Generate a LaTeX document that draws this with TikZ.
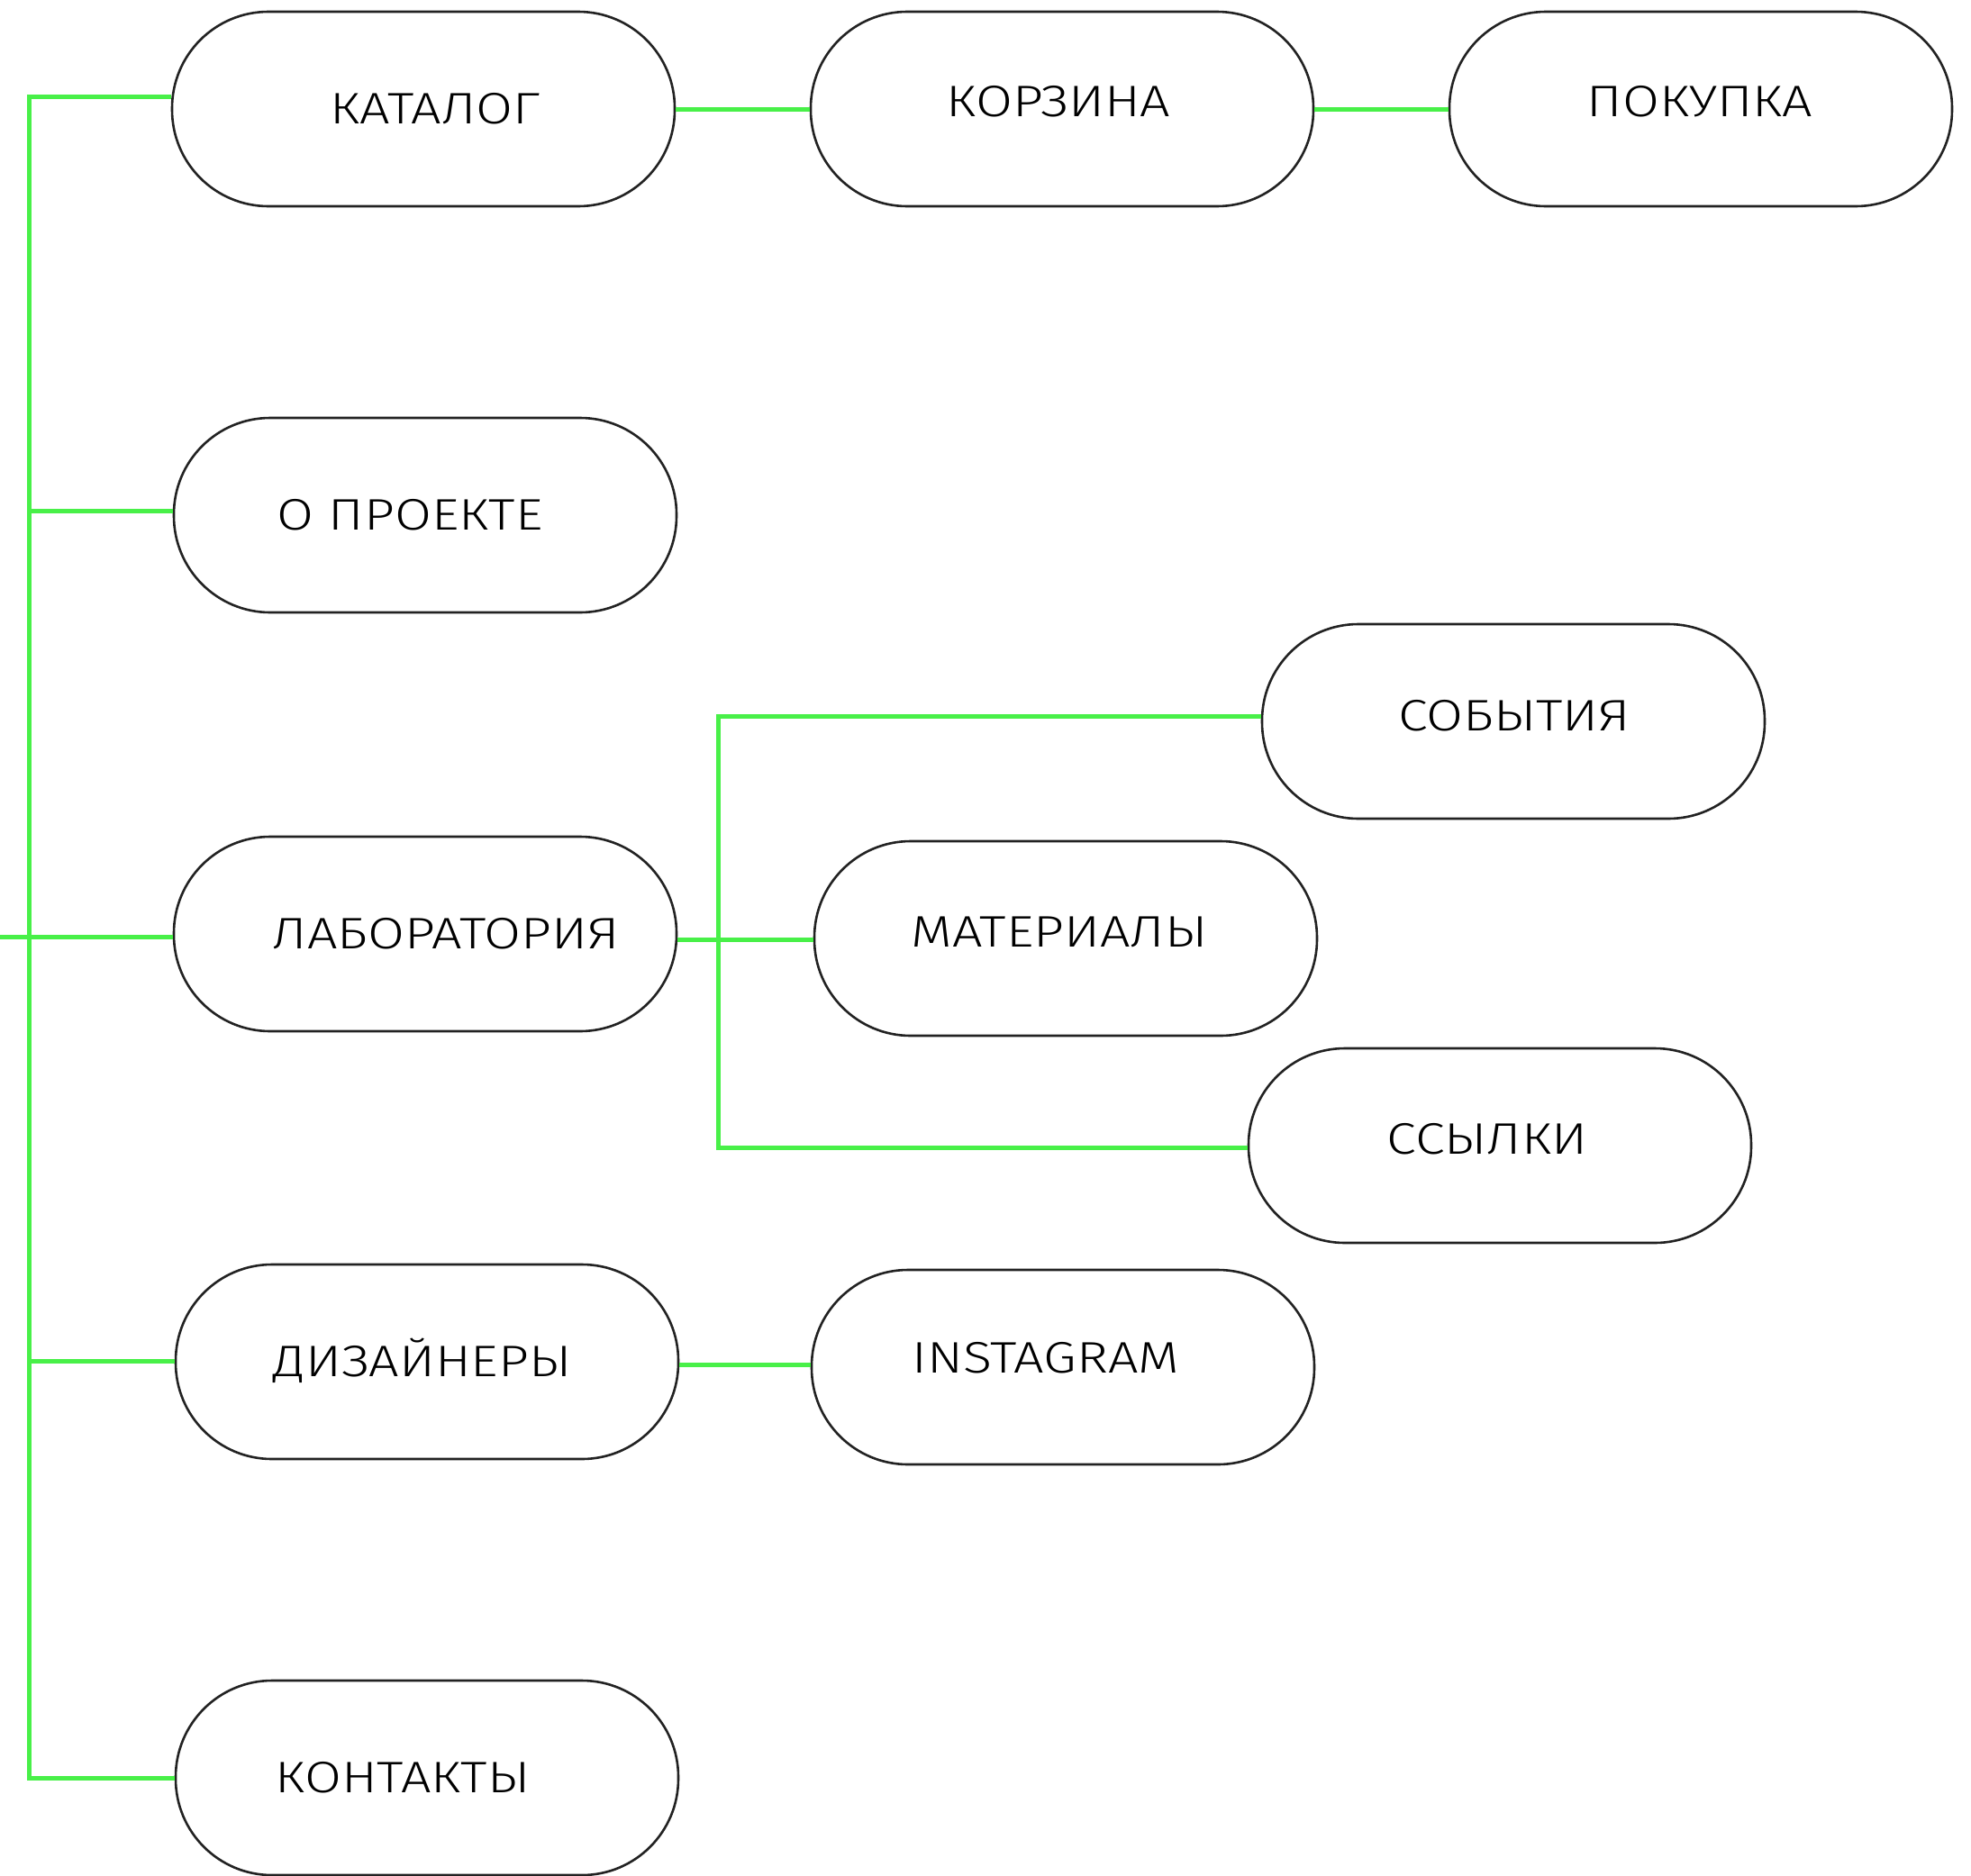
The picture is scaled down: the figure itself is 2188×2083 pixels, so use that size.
\documentclass[tikz,border=0pt]{standalone}
\usepackage{fontspec}
\setmainfont{Fira Sans Light}[FakeStretch=1.21]
\definecolor{lgreen}{RGB}{72,240,72}
\definecolor{boxline}{RGB}{34,34,34}
\tikzset{
  pill/.style={draw=boxline, line width=2.6pt, rectangle, rounded corners=107pt,
    minimum width=558pt, minimum height=216pt, inner sep=0pt, fill=white},
  lbl/.style={anchor=base, inner sep=0pt, font=\fontsize{49}{55}\selectfont, text=black},
  link/.style={draw=lgreen, line width=5pt}
}
\begin{document}
\begin{tikzpicture}[x=1pt,y=-1pt]
\useasboundingbox[fill=white] (0,0) rectangle (2188,2083);
% boxes
\node[pill] (kat) at (470,121) {};
\node[pill] (kor) at (1179,121) {};
\node[pill] (pok) at (1888,121) {};
\node[pill] (pro) at (472,572) {};
\node[pill] (lab) at (472,1037) {};
\node[pill] (sob) at (1680,801) {};
\node[pill] (mat) at (1183,1042) {};
\node[pill] (ssy) at (1665,1272) {};
\node[pill] (diz) at (474,1512) {};
\node[pill] (ins) at (1180,1518) {};
\node[pill] (kon) at (474,1974) {};
% labels
\node[lbl] (kat-t) at (483,137) {КАТАЛОГ};
\node[lbl] (kor-t) at (1175,129) {КОРЗИНА};
\node[lbl] (pok-t) at (1887,129) {ПОКУПКА};
\node[lbl] (pro-t) at (455,588) {О ПРОЕКТЕ};
\node[lbl] (lab-t) at (495,1053) {ЛАБОРАТОРИЯ};
\node[lbl] (sob-t) at (1681,811) {СОБЫТИЯ};
\node[lbl] (mat-t) at (1176,1051) {МАТЕРИАЛЫ};
\node[lbl] (ssy-t) at (1651,1281) {ССЫЛКИ};
\node[lbl] (diz-t) at (469,1528) {ДИЗАЙНЕРЫ};
\node[lbl] (ins-t) at (1161,1524) {INSTAGRAM};
\node[lbl] (kon-t) at (447,1990) {КОНТАКТЫ};
% coordinates
\coordinate (tTop) at (32,107);
\coordinate (tPro) at (32,567);
\coordinate (tLab) at (32,1040);
\coordinate (tDiz) at (32,1511);
\coordinate (tBot) at (32,1974);
\coordinate (inL) at (0,1040);
\coordinate (sTop) at (797,795);
\coordinate (sMid) at (797,1043);
\coordinate (sBot) at (797,1274);
\coordinate (dLine) at (760,1515);
% connectors
\draw[link] (kat.west |- tTop) -- (tTop) -- (tBot) -- (kon.west |- tBot);
\draw[link] (tPro) -- (pro.west |- tPro);
\draw[link] (inL) -- (lab.west |- inL);
\draw[link] (tDiz) -- (diz.west |- tDiz);
\draw[link] (kat.east) -- (kor.west);
\draw[link] (kor.east) -- (pok.west);
\draw[link] (lab.east |- sMid) -- (mat.west |- sMid);
\draw[link] (sob.west |- sTop) -- (sTop) -- (sBot) -- (ssy.west |- sBot);
\draw[link] (diz.east |- dLine) -- (ins.west |- dLine);
\end{tikzpicture}
\end{document}
